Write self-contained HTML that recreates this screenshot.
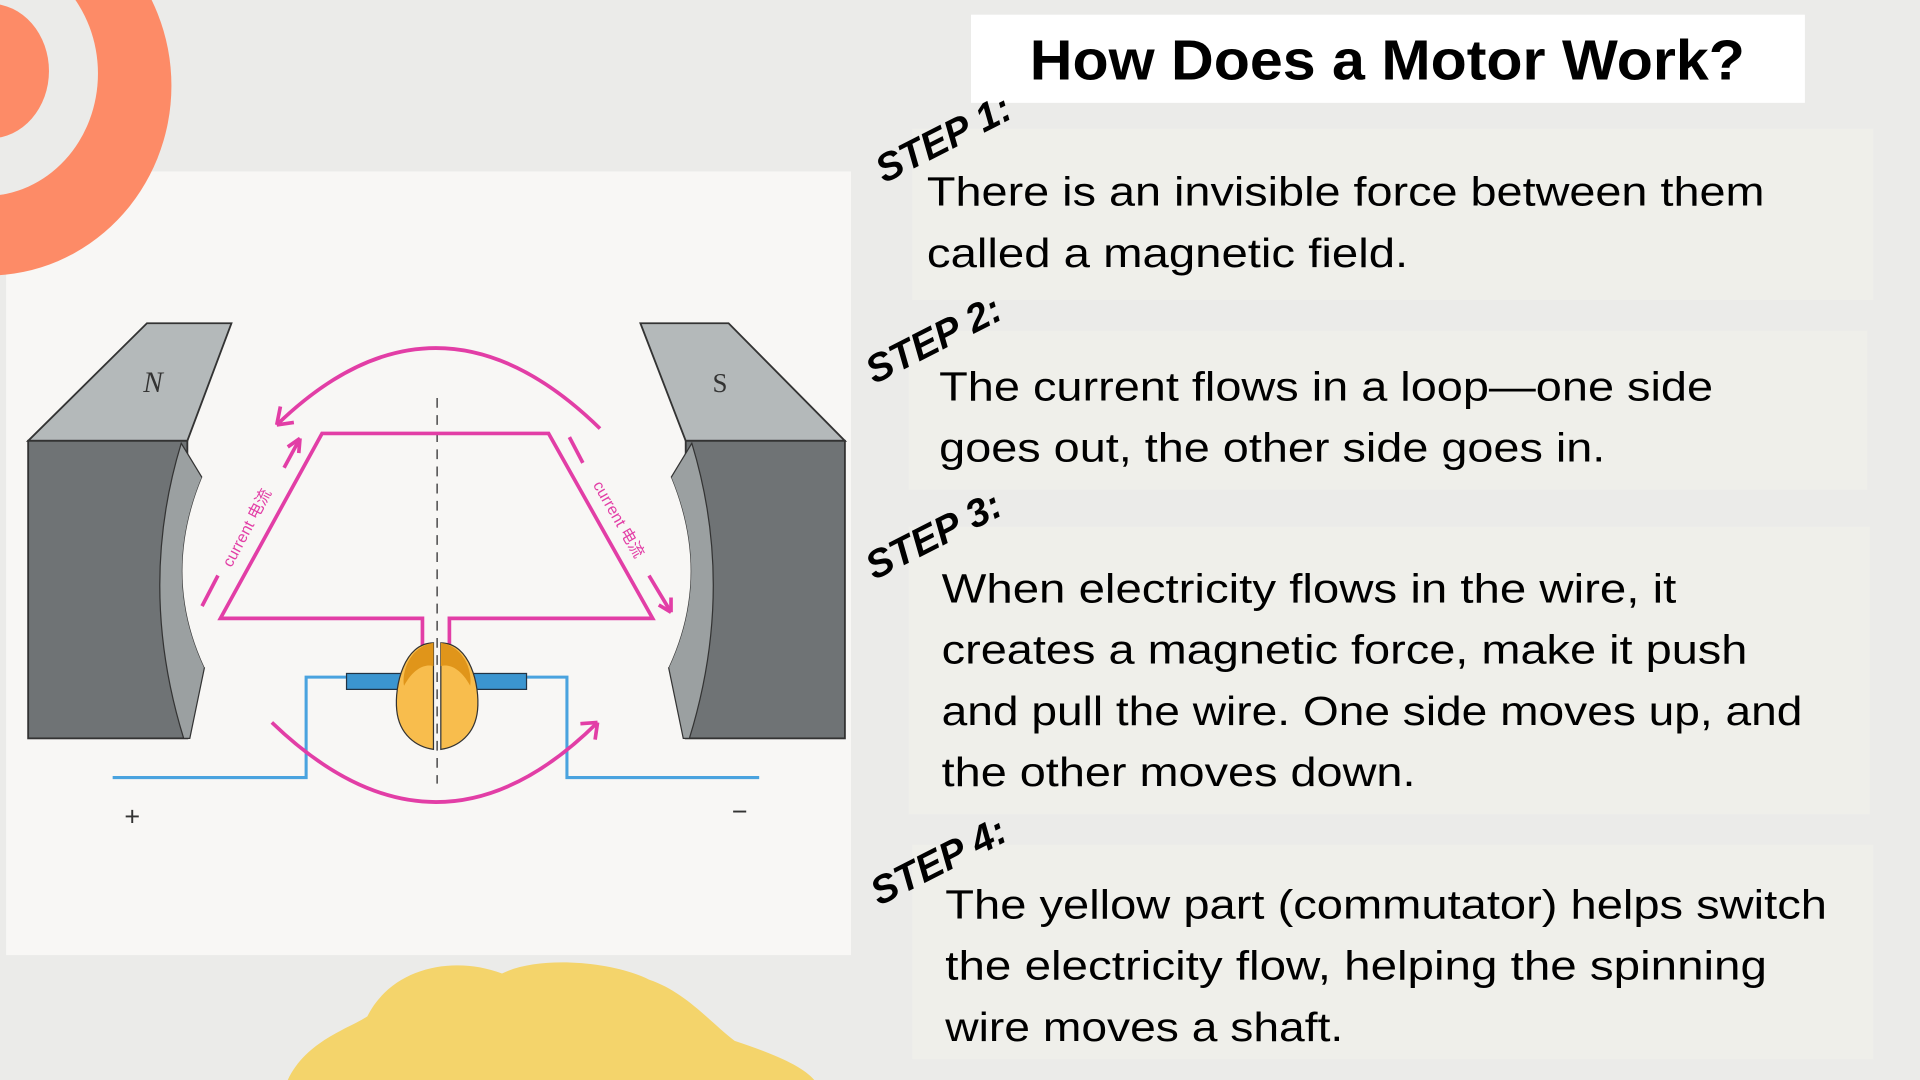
<!DOCTYPE html>
<html><head><meta charset="utf-8"><style>html,body{margin:0;padding:0;background:#ebebe9;}svg{display:block}</style></head>
<body>
<svg width="1920" height="1080" viewBox="0 0 1568 882" xmlns="http://www.w3.org/2000/svg">
<rect width="1568" height="882" fill="#ebebe9"/>
<rect x="5" y="140" width="690" height="640" fill="#f8f7f5"/>
<ellipse cx="-10" cy="70" rx="150" ry="155" fill="#fd8b67"/>
<ellipse cx="-12" cy="60" rx="92" ry="100" fill="#ebebe9"/>
<ellipse cx="-8" cy="58" rx="48" ry="55" fill="#fd8b67"/>
<path d="M235,882 C250,850 285,840 300,830 C320,790 370,780 410,795 C440,780 500,785 530,800 C560,810 580,835 600,850 C630,860 655,870 665,882 Z" fill="#f4d46b"/>
<rect x="793" y="12" width="681" height="72" fill="#ffffff"/>
<text x="841" y="65" textLength="584" lengthAdjust="spacingAndGlyphs" font-family="Liberation Sans, sans-serif" font-weight="bold" font-size="46" fill="#000">How Does a Motor Work?</text>
<rect x="745" y="105" width="785" height="140" fill="#efefea"/>
<rect x="742" y="270" width="783" height="130" fill="#efefea"/>
<rect x="742" y="430" width="785" height="235" fill="#efefea"/>
<rect x="745" y="690" width="785" height="175" fill="#efefea"/>
<g font-family="Liberation Sans, sans-serif" font-size="33" fill="#000" lengthAdjust="spacingAndGlyphs">
<text x="757" y="168" textLength="684" lengthAdjust="spacingAndGlyphs">There is an invisible force between them</text>
<text x="757" y="218" textLength="393" lengthAdjust="spacingAndGlyphs">called a magnetic field.</text>
<text x="767" y="327" textLength="632" lengthAdjust="spacingAndGlyphs">The current flows in a loop—one side</text>
<text x="767" y="377" textLength="544" lengthAdjust="spacingAndGlyphs">goes out, the other side goes in.</text>
<text x="769" y="492" textLength="600" lengthAdjust="spacingAndGlyphs">When electricity flows in the wire, it</text>
<text x="769" y="542" textLength="658" lengthAdjust="spacingAndGlyphs">creates a magnetic force, make it push</text>
<text x="769" y="592" textLength="703" lengthAdjust="spacingAndGlyphs">and pull the wire. One side moves up, and</text>
<text x="769" y="642" textLength="387" lengthAdjust="spacingAndGlyphs">the other moves down.</text>
<text x="772" y="750" textLength="720" lengthAdjust="spacingAndGlyphs">The yellow part (commutator) helps switch</text>
<text x="772" y="800" textLength="671" lengthAdjust="spacingAndGlyphs">the electricity flow, helping the spinning</text>
<text x="772" y="850" textLength="325" lengthAdjust="spacingAndGlyphs">wire moves a shaft.</text>
</g>
<g font-family="Liberation Sans, sans-serif" font-weight="bold" font-style="italic" font-size="32" fill="#000">
<text transform="translate(722,150) rotate(-27)">STEP 1:</text>
<text transform="translate(714,314) rotate(-27)">STEP 2:</text>
<text transform="translate(714,474) rotate(-27)">STEP 3:</text>
<text transform="translate(718,740) rotate(-27)">STEP 4:</text>
</g>
<polygon points="23,360 120,264 189,264 153,360" fill="#b4b9ba" stroke="#333" stroke-width="1.5"/>
<rect x="23" y="360" width="130" height="243" fill="#6f7375" stroke="#333" stroke-width="1.5"/>
<path d="M148,362 Q112,480 150,603 L155,603 L167,545 Q132,470 165,390 Z" fill="#9ba0a1" stroke="#333" stroke-width="1"/>
<path d="M165,390 Q132,470 167,545 L175,545 L175,380 Z" fill="#f8f7f5"/>
<text x="125" y="320" text-anchor="middle" font-family="Liberation Serif, serif" font-style="italic" font-size="24" fill="#333">N</text>
<polygon points="523,264 595,264 690,360 560,360" fill="#b4b9ba" stroke="#333" stroke-width="1.5"/>
<rect x="560" y="360" width="130" height="243" fill="#6f7375" stroke="#333" stroke-width="1.5"/>
<path d="M565,362 Q601,480 563,603 L558,603 L546,545 Q581,470 548,390 Z" fill="#9ba0a1" stroke="#333" stroke-width="1"/>
<path d="M548,390 Q581,470 546,545 L538,545 L538,380 Z" fill="#f8f7f5"/>
<text x="588" y="320" text-anchor="middle" font-family="Liberation Serif, serif" font-size="22" fill="#333">S</text>
<line x1="357" y1="325" x2="357" y2="640" stroke="#555" stroke-width="1.3" stroke-dasharray="8,6"/>
<path d="M92,635 L250,635 L250,553 L290,553" fill="none" stroke="#4aa3df" stroke-width="2.5"/>
<path d="M430,553 L463,553 L463,635 L620,635" fill="none" stroke="#4aa3df" stroke-width="2.5"/>
<rect x="283" y="550" width="47" height="13" fill="#3b95d0" stroke="#234" stroke-width="1"/>
<rect x="385" y="550" width="45" height="13" fill="#3b95d0" stroke="#234" stroke-width="1"/>
<path d="M345,530 L345,505 L180,505 L263,354 L448,354 L533,505 L367,505 L367,530" fill="none" stroke="#e23ea6" stroke-width="3"/>
<path d="M354,525 C330,525 322,560 324,580 C326,600 340,610 354,612 Z" fill="#f8bd4d" stroke="#333" stroke-width="1"/>
<path d="M354,525 C335,528 328,548 330,560 C338,545 348,542 354,544 Z" fill="#e0951a"/>
<path d="M360,525 C384,525 392,560 390,580 C388,600 374,610 360,612 Z" fill="#f8bd4d" stroke="#333" stroke-width="1"/>
<path d="M360,525 C379,528 386,548 384,560 C376,545 366,542 360,544 Z" fill="#e0951a"/>
<g fill="none" stroke="#e23ea6" stroke-width="3">
<path d="M490,350 Q357,220 226,347"/>
<path d="M222,590 Q357,720 488,590"/>
<path d="M226,347 L229,332 M226,347 L240,345"/>
<path d="M488,590 L474,591 M488,590 L486,604"/>
<line x1="165" y1="495" x2="178" y2="470"/>
<line x1="232" y1="382" x2="245" y2="358"/>
<path d="M245,358 L235,365 M245,358 L244,370"/>
<line x1="465" y1="357" x2="476" y2="378"/>
<line x1="530" y1="470" x2="548" y2="500"/>
<path d="M548,500 L538,494 M548,500 L548,488"/>
</g>
<g font-family="Liberation Sans, 'Noto Sans CJK SC', sans-serif" font-size="13" fill="#e23ea6">
<text transform="translate(189,464) rotate(-62)">current 电流</text>
<text transform="translate(484,396) rotate(60)">current 电流</text>
</g>
<text x="108" y="674" text-anchor="middle" font-family="Liberation Sans, sans-serif" font-size="22" fill="#333">+</text>
<text x="604" y="670" text-anchor="middle" font-family="Liberation Sans, sans-serif" font-size="22" fill="#333">−</text>
</svg>
</body></html>
